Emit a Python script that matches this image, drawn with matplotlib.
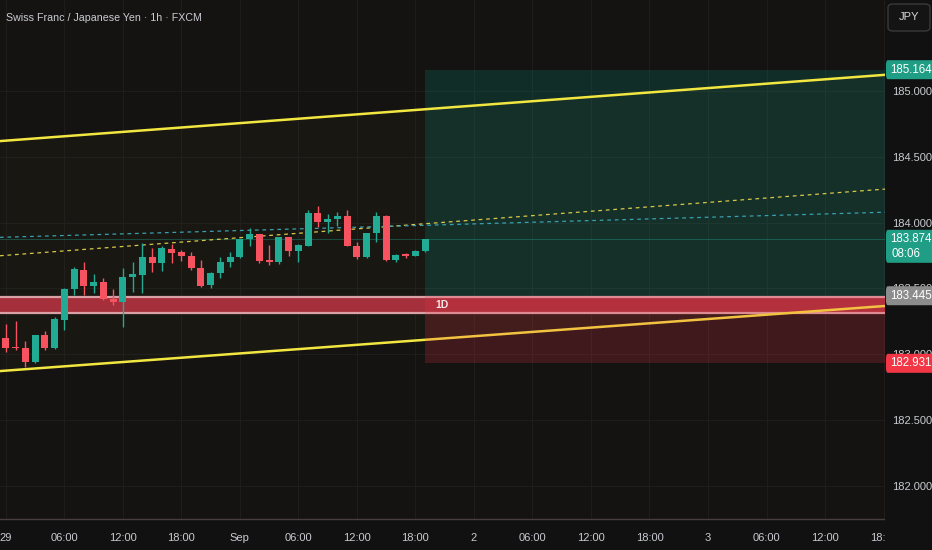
import matplotlib
matplotlib.use("Agg")
import matplotlib.pyplot as plt
from matplotlib.patches import FancyBboxPatch, Rectangle
import numpy as np

plt.rcParams.update({
    'font.family': ['Liberation Sans Narrow', 'Liberation Sans', 'DejaVu Sans'],
    'font.size': 8,
})

# hourly bars, x = hours from Sep 1 00:00 (weekend gap removed)
HOURS = list(range(-24, 20))
OPENS = [183.123, 183.052, 183.049, 182.943, 183.146, 183.047, 183.260, 183.496,
         183.640, 183.521, 183.549, 183.420, 183.397, 183.587, 183.602, 183.739,
         183.696, 183.800, 183.777, 183.749, 183.658, 183.526, 183.615, 183.703,
         183.737, 183.874, 183.912, 183.716, 183.699, 183.889, 183.787, 183.825,
         184.074, 184.003, 184.028, 184.053, 183.825, 183.737, 183.919, 184.053,
         183.716, 183.760, 183.749, 183.787]
HIGHS = [183.230, 183.255, 183.103, 183.150, 183.176, 183.280, 183.500, 183.660,
         183.701, 183.610, 183.579, 183.496, 183.658, 183.703, 183.846, 183.810,
         183.820, 183.838, 183.790, 183.779, 183.716, 183.625, 183.739, 183.779,
         183.880, 183.957, 183.915, 183.830, 183.895, 183.895, 183.835, 184.097,
         184.129, 184.066, 184.079, 184.097, 183.856, 183.925, 184.079, 184.060,
         183.760, 183.767, 183.790, 183.880]
LOWS = [183.017, 183.032, 182.903, 182.935, 183.032, 183.040, 183.184, 183.450,
        183.450, 183.465, 183.410, 183.374, 183.209, 183.475, 183.465, 183.627,
        183.635, 183.694, 183.709, 183.640, 183.510, 183.500, 183.582, 183.661,
        183.730, 183.825, 183.691, 183.678, 183.690, 183.749, 183.703, 183.820,
        183.965, 183.924, 183.977, 183.820, 183.724, 183.730, 183.856, 183.710,
        183.699, 183.734, 183.745, 183.780]
CLOSES = [183.047, 183.047, 182.943, 183.146, 183.047, 183.268, 183.496, 183.648,
          183.521, 183.549, 183.420, 183.397, 183.589, 183.610, 183.739, 183.696,
          183.808, 183.770, 183.749, 183.658, 183.521, 183.618, 183.703, 183.741,
          183.876, 183.912, 183.709, 183.699, 183.889, 183.787, 183.830, 184.076,
          184.008, 184.028, 184.053, 183.825, 183.737, 183.919, 184.053, 183.716,
          183.754, 183.749, 183.787, 183.874]

# time axis
TICK_HOURS = [-24, -18, -12, -6, 0, 6, 12, 18, 24, 30, 36, 42, 48, 54, 60, 66]
TICK_LABELS = ['29', '06:00', '12:00', '18:00', 'Sep', '06:00', '12:00', '18:00',
               '2', '06:00', '12:00', '18:00', '3', '06:00', '12:00', '18:00']
PRICE_TICKS = [182.0, 182.5, 183.0, 183.5, 184.0, 184.5, 185.0]

X_MIN, X_MAX = -24.6, 66.15
Y_MIN, Y_MAX = 181.747, 185.694

# drawings: (price at left edge, price at right edge)
UPPER_CHANNEL = (184.621, 185.125)
LOWER_CHANNEL = (182.872, 183.367)
YELLOW_DASH = (183.749, 184.256)
TEAL_DASH = (183.889, 184.080)

# long position tool
POS_START = 19
ENTRY, TARGET, STOP = 183.445, 185.164, 182.931
LAST_PRICE = 183.874
COUNTDOWN = '08:06'

# 1D band
BAND_TOP, BAND_BOTTOM = 183.432, 183.316

BG = '#141312'
SCALE_BG = '#111111'
UP = '#22ab94'
DOWN = '#f7525f'
TXT = '#c9cbd1'

fig = plt.figure(figsize=(9.32, 5.5), dpi=100, facecolor=SCALE_BG)
ax = fig.add_axes([0, 31 / 550, 885 / 932, 519 / 550])
ax.set_facecolor(BG)
ax.set_xlim(X_MIN, X_MAX)
ax.set_ylim(Y_MIN, Y_MAX)

for s in ax.spines.values():
    s.set_visible(False)
ax.spines['bottom'].set_visible(True)
ax.spines['bottom'].set_color('#4a3d40')
ax.spines['bottom'].set_linewidth(1.0)

ax.set_xticks(TICK_HOURS)
ax.set_xticklabels(TICK_LABELS, color=TXT, fontsize=8)
ax.tick_params(axis='x', length=0, pad=10)
ax.set_yticks(PRICE_TICKS)
ax.tick_params(axis='y', left=False, labelleft=False)
ax.grid(True, color='#1e1d1c', lw=0.8, zorder=0)
ax.set_axisbelow(True)

xl = np.array([X_MIN, X_MAX])

# faint channel fill
ax.fill_between(xl, LOWER_CHANNEL, UPPER_CHANNEL, color='#d8c030', alpha=0.025, lw=0, zorder=1)

# target zone
ax.fill_between([POS_START, X_MAX + 5], ENTRY, TARGET, color='#089981', alpha=0.2, lw=0, zorder=1.2)

# band
ax.fill_between(xl, BAND_BOTTOM, BAND_TOP, color='#a52f3b', lw=0, zorder=1.5)
ax.plot(xl, [BAND_TOP, BAND_TOP], color='#d9a0a6', lw=1.6, zorder=1.6)
ax.plot(xl, [BAND_BOTTOM, BAND_BOTTOM], color='#d9a0a6', lw=1.6, zorder=1.6)
ax.text(POS_START + 1.7, (BAND_TOP + BAND_BOTTOM) / 2, '1D', color='#f0e6e6',
        fontsize=7.5, fontweight='bold', ha='center', va='center', zorder=6)

# last price line
ax.plot(xl, [LAST_PRICE, LAST_PRICE], color='#22ab94', alpha=0.35, lw=0.8, zorder=1.7)

# dashed helper lines
ax.plot(xl, YELLOW_DASH, color='#d8c84a', lw=0.9, ls=(0, (3, 3)), zorder=2)
ax.plot(xl, TEAL_DASH, color='#3a9fb0', lw=0.9, ls=(0, (3, 3)), zorder=2)

# channel lines
ax.plot(xl, UPPER_CHANNEL, color='#f2e640', lw=1.8, zorder=3)
ax.plot(xl, LOWER_CHANNEL, color='#f2e640', lw=1.8, zorder=3)

# stop zone drawn over the lower line
ax.fill_between([POS_START, X_MAX + 5], STOP, ENTRY, color='#f23645', alpha=0.2, lw=0, zorder=3.5)

# candles
o = np.array(OPENS)
c = np.array(CLOSES)
cols = [UP if cc >= oo else DOWN for oo, cc in zip(o, c)]
ax.vlines(HOURS, LOWS, HIGHS, colors=cols, lw=1.0, zorder=4)
heights = np.maximum(np.abs(c - o), 0.008)
ax.bar(HOURS, heights, bottom=np.minimum(o, c), width=0.72, color=cols, lw=0, zorder=5)

# title
fig.text(6 / 932, 1 - 18 / 550, 'Swiss Franc / Japanese Yen · 1h · FXCM', color=TXT,
         fontsize=7.7, ha='left', va='center')

# price scale
axr = fig.add_axes([885 / 932, 31 / 550, 47 / 932, 519 / 550])
axr.set_facecolor(SCALE_BG)
axr.set_ylim(Y_MIN, Y_MAX)
axr.set_xlim(0, 1)
for s in axr.spines.values():
    s.set_visible(False)
axr.set_xticks([])
axr.set_yticks(PRICE_TICKS)
axr.set_yticklabels([f'{p:.3f}' for p in PRICE_TICKS], color=TXT, fontsize=8)
axr.tick_params(axis='y', length=0, pad=-5)
for lbl in axr.get_yticklabels():
    lbl.set_horizontalalignment('left')

# cover the time-axis corner under the price scale (clips the last time label)
fig.patches.append(Rectangle((885 / 932, 0), 47 / 932, 31 / 550, transform=fig.transFigure,
                             fc=SCALE_BG, ec='none', zorder=5))

ppx = (Y_MAX - Y_MIN) / 519  # price per pixel


def price_box(price, color, sub=None):
    h = 19 if sub is None else 33
    top = price + 9.5 * ppx
    axr.add_patch(FancyBboxPatch((0.02, top - h * ppx), 1.2, h * ppx,
                                 boxstyle='round,pad=0,rounding_size=0.04',
                                 fc=color, ec='none', zorder=5, clip_on=False))
    axr.text(0.56, price, f'{price:.3f}', color='white', fontsize=8.3,
             ha='center', va='center', zorder=6)
    if sub:
        axr.text(0.14, price - 15 * ppx, sub, color='white', fontsize=8.3,
                 ha='left', va='center', zorder=6)


price_box(TARGET, '#1f9d85')
price_box(LAST_PRICE, '#1f9d85', sub=COUNTDOWN)
price_box(ENTRY, '#8c8c8c')
price_box(STOP, '#f23645')

# currency button
fig.patches.append(FancyBboxPatch((888 / 932, 1 - 31 / 550), 42 / 932, 27 / 550,
                                  boxstyle='round,pad=0,rounding_size=0.006',
                                  transform=fig.transFigure, fc='#141414',
                                  ec='#3a3a3a', lw=1.0, zorder=5))
fig.text(909 / 932, 1 - 17.5 / 550, 'JPY', color='#d8d8d8', fontsize=8,
         ha='center', va='center', zorder=6)

fig.savefig('out.png', dpi=100, facecolor=fig.get_facecolor())
